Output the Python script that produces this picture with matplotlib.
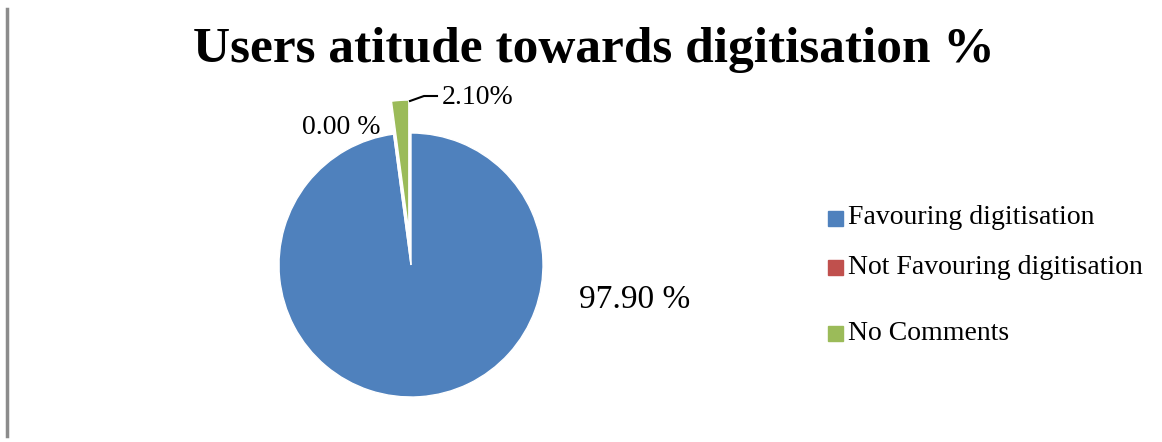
import matplotlib.pyplot as plt
from matplotlib.patches import Rectangle
from matplotlib.lines import Line2D

# Data
labels = ['Favouring digitisation', 'Not Favouring digitisation', 'No Comments']
values = [97.90, 0.00, 2.10]
value_texts = ['97.90 %', '0.00 %', '2.10%']
colors = ['#4F81BD', '#C0504D', '#9BBB59']
explode = [0, 0, 0.25]

plt.rcParams['font.family'] = ['Liberation Serif', 'DejaVu Serif']

W, H = 1162, 442
fig = plt.figure(figsize=(W / 100, H / 100), dpi=100)

# left gray rule
fig.add_artist(Line2D([7 / W, 7 / W], [1 - 9 / H, 1 - 436 / H], color='#8c8c8c', lw=2.5))

fig.text(594 / W, 1 - 50 / H, 'Users atitude towards digitisation %', ha='center', va='center',
         fontsize=37, fontweight='bold')

# pie axes: centre (411, 265), radius 132 px
cx, cy, r = 411, 265, 132
ax = fig.add_axes([(cx - r) / W, 1 - (cy + r) / H, 2 * r / W, 2 * r / H])
wedges, _ = ax.pie(values, colors=colors, explode=explode, startangle=90, counterclock=False,
                   wedgeprops=dict(edgecolor='white', linewidth=1))
for w in wedges:
    w.set_clip_on(False)
ax.set_xlim(-1, 1)
ax.set_ylim(-1, 1)
ax.set_aspect('auto')
ax.axis('off')

# data labels
ax.text((341 - cx) / r, (cy - 128) / r, value_texts[1], ha='center', va='center', fontsize=20)
ax.text((478 - cx) / r, (cy - 98) / r, value_texts[2], ha='center', va='center', fontsize=20)
ax.text((635 - cx) / r, (cy - 300) / r, value_texts[0], ha='center', va='center', fontsize=24)
ax.plot([(410 - cx) / r, (424 - cx) / r, (437 - cx) / r],
        [(cy - 101) / r, (cy - 96) / r, (cy - 96) / r], color='black', lw=1.5, clip_on=False)

# legend
rows_y = [218, 267, 333]
for lab, col, yy in zip(labels, colors, rows_y):
    fig.add_artist(Rectangle((828 / W, 1 - (yy + 8) / H), 15 / W, 15 / H, color=col))
    fig.text(848 / W, 1 - yy / H, lab, ha='left', va='center', fontsize=20)

fig.savefig('out.png', dpi=100)
